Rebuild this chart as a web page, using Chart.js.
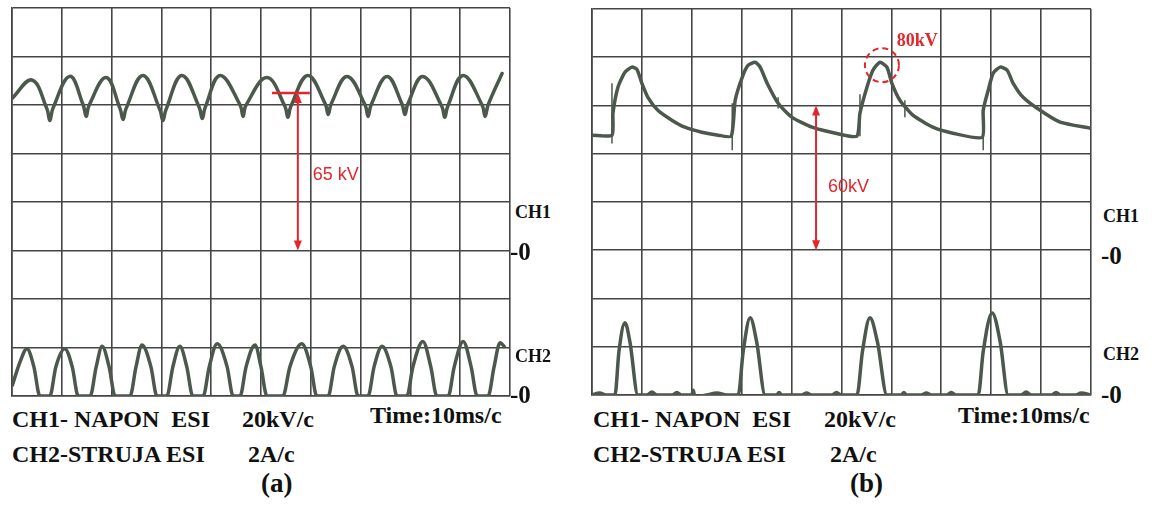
<!DOCTYPE html>
<html>
<head>
<meta charset="utf-8">
<script src="https://cdn.jsdelivr.net/npm/chart.js@4.4.1/dist/chart.umd.min.js"></script>
<style>
body { margin:0; background:#fff; width:1155px; height:506px; position:relative; overflow:hidden; font-family:"Liberation Serif", "Times New Roman", serif; }
canvas { position:absolute; }
.lbl { position:absolute; font-weight:bold; color:#111; white-space:pre; font-size:24px; line-height:1; }
.side { position:absolute; font-weight:bold; color:#111; white-space:pre; line-height:1; }
</style>
</head>
<body>
<canvas id="chartA" width="504" height="394" style="left:9px;top:5px"></canvas>
<canvas id="chartB" width="505" height="392" style="left:589px;top:6px"></canvas>

<div class="side" style="left:515px;top:203px;font-size:18px">CH1</div>
<div class="side" style="left:510px;top:239px;font-size:25px">-0</div>
<div class="side" style="left:515px;top:347px;font-size:18px">CH2</div>
<div class="side" style="left:510px;top:382px;font-size:25px">-0</div>

<div class="side" style="left:1103px;top:207px;font-size:18px">CH1</div>
<div class="side" style="left:1101px;top:243px;font-size:25px">-0</div>
<div class="side" style="left:1103px;top:345px;font-size:18px">CH2</div>
<div class="side" style="left:1101px;top:382px;font-size:25px">-0</div>

<div class="lbl" style="left:12px;top:407px">CH1- NAPON  ESI</div>
<div class="lbl" style="left:242px;top:407px">20kV/c</div>
<div class="lbl" style="left:370px;top:403px">Time:10ms/c</div>
<div class="lbl" style="left:12px;top:442px">CH2-STRUJA ESI</div>
<div class="lbl" style="left:248px;top:442px">2A/c</div>
<div class="lbl" style="left:261px;top:470px;font-size:27px">(a)</div>

<div class="lbl" style="left:593px;top:407px">CH1- NAPON  ESI</div>
<div class="lbl" style="left:824px;top:407px">20kV/c</div>
<div class="lbl" style="left:958px;top:403px">Time:10ms/c</div>
<div class="lbl" style="left:593px;top:442px">CH2-STRUJA ESI</div>
<div class="lbl" style="left:830px;top:442px">2A/c</div>
<div class="lbl" style="left:850px;top:470px;font-size:27px">(b)</div>

<script>
// (a) CH1 napon [ms, kV]
const timeA1 = [0, 4.0, 7.0, 7.6, 8.2, 11.6, 14.3, 14.9, 15.5, 18.9, 21.7, 22.3, 22.9, 26.3, 29.7, 30.3, 30.9, 34.1, 37.6, 38.2, 38.8, 41.8, 45.8, 46.4, 47.0, 51.2, 54.8, 55.4, 56.0, 59.4, 62.9, 63.5, 64.1, 67.3, 70.9, 71.5, 72.1, 75.3, 78.3, 78.9, 79.5, 82.5, 86.3, 86.9, 87.5, 90.6, 94.4, 95.0, 95.6, 98.4]
const voltA1 = [62.7, 70.3, 58.5, 53.6, 58.5, 71.8, 60.0, 55.3, 60.0, 71.3, 58.5, 54.0, 58.5, 72.2, 58.0, 53.6, 58.0, 72.2, 59.0, 54.4, 59.0, 72.2, 60.0, 55.3, 60.0, 71.3, 59.5, 54.9, 59.5, 72.2, 60.5, 56.1, 60.5, 71.8, 60.0, 55.3, 60.0, 71.8, 60.5, 56.1, 60.5, 71.8, 59.5, 54.9, 59.5, 72.2, 60.0, 55.3, 60.0, 73.0]

// (a) CH2 struja [ms, A]
const timeA2 = [0, 1.6, 3.0, 4.4, 5.6, 7.6, 8.8, 10.6, 12.1, 13.3, 15.7, 16.9, 18.1, 19.5, 20.7, 23.7, 24.9, 26.1, 27.9, 29.1, 31.1, 32.3, 33.7, 35.1, 36.3, 38.4, 39.6, 41.2, 43.2, 44.4, 45.8, 47.0, 48.8, 50.0, 51.2, 54.4, 55.8, 58.2, 60.0, 61.2, 63.5, 64.7, 66.5, 68.3, 69.5, 71.5, 72.7, 74.3, 76.1, 77.3, 79.3, 80.5, 82.5, 84.1, 85.3, 87.6, 88.8, 90.6, 92.2, 93.4, 95.6, 96.8, 98.0, 99.0]
const ampA2 = [0.4, 1.4, 1.95, 1.2, 0, 0, 1.2, 1.95, 1.2, 0, 0, 1.2, 2.05, 1.2, 0, 0, 1.2, 2.1, 1.2, 0, 0, 1.2, 2.05, 1.2, 0, 0, 1.2, 2.15, 1.2, 0, 0, 1.2, 2.1, 1.2, 0, 0, 1.2, 2.15, 1.2, 0, 0, 1.2, 2.05, 1.2, 0, 0, 1.2, 2.05, 1.2, 0, 0, 1.2, 2.25, 1.2, 0, 0, 1.2, 2.25, 1.2, 0, 0, 1.2, 2.2, 2.0]

// (b) CH1 napon [ms, kV]
const timeB1 = [0, 4.0, 4.2, 5.2, 6.6, 8.0, 9.0, 10.0, 11.2, 13.2, 16.0, 18.6, 22.0, 25.3, 27.9, 28.7, 30.1, 31.3, 32.7, 33.7, 35.1, 37.3, 40.1, 44.1, 49.7, 53.1, 53.7, 55.1, 56.3, 57.7, 59.1, 60.1, 61.7, 64.3, 68.3, 72.3, 78.2, 78.4, 79.4, 80.4, 81.8, 83.2, 84.4, 86.4, 89.8, 93.8, 99.8]
const voltB1 = [47.7, 47.7, 56.8, 67.6, 73.8, 75.9, 75.0, 69.2, 63.4, 58.0, 53.9, 51.0, 48.9, 47.7, 47.3, 62.2, 71.7, 76.7, 77.9, 75.9, 69.2, 60.9, 55.1, 51.0, 48.1, 47.3, 56.8, 67.6, 74.6, 77.9, 75.9, 69.2, 62.2, 56.0, 51.0, 48.5, 46.8, 58.0, 66.3, 73.4, 75.9, 74.6, 69.2, 63.4, 58.0, 53.1, 50.6]

// (b) CH1 tanke smetnje: vrijeme, gornji i donji kV
const spikeTimeB = [4.0, 28.1, 37.3, 53.7, 62.7, 78.4]
const spikeTopB = [69.2, 60.9, 63.4, 64.7, 62.2, 53.9]
const spikeBotB = [44.3, 41.5, 58.8, 47.3, 55.1, 41.5]

// (b) CH2 struja [ms, A]
const timeB2 = [0, 1.5, 3.0, 4.6, 5.4, 6.6, 7.6, 9.2, 11, 12, 13, 16, 17, 18, 20, 20.3, 20.6, 23, 25, 27, 29.3, 30.3, 31.7, 33.0, 34.7, 37, 37.5, 38, 42, 43, 44, 48, 49, 50, 53.1, 54.2, 55.7, 57.2, 59.1, 62, 62.5, 63, 66, 67, 68, 71, 72, 73, 77.4, 78.4, 80.2, 81.8, 83.4, 86, 87, 88, 92, 93, 94, 97, 98, 100]
const ampB2 = [0, 0.08, 0, 0, 1.8, 3.0, 2.2, 0, 0, 0.12, 0, 0, 0.1, 0, 0, 0.2, -0.08, 0, 0.08, 0, 0, 1.8, 3.2, 2.2, 0, 0, 0.1, 0, 0, 0.08, 0, 0, 0.1, 0, 0, 1.8, 3.2, 2.2, 0, 0, 0.1, 0, 0, 0.08, 0, 0, 0.1, 0, 0, 1.8, 3.4, 2.2, 0, 0, 0.12, 0, 0, 0.1, 0, 0, 0.08, 0]

// oznake: [ms, kV od, kV do]
const arrowA = [57.4, 0, 65]
const markA = [52.2, 59.8, 65]
const labelA = [65.0, 31, '65 kV']
const arrowB = [44.9, 0, 60]
const labelB = [51.4, 26, '60kV']
const circleB = [58.1, 76.7]
const peakLabelB = [65.2, 86.5, '80kV']

const traceColor = '#4b584b'
const gridColor = '#454545'
const red = '#e3262b'

function pts(xs, ys){
    return xs.map((x, i) => ({x: x, y: ys[i]}))
}

function spikes(ts, tops, bots){
    let out = []
    ts.forEach((t, i) => {
        out.push({x: t, y: tops[i]}, {x: t, y: bots[i]}, {x: t, y: null})
    })
    return out
}

function drawArrow(ctx, x, yTop, yBot){
    ctx.beginPath()
    ctx.moveTo(x, yTop + 4)
    ctx.lineTo(x, yBot - 4)
    ctx.stroke()
    ctx.beginPath()
    ctx.moveTo(x, yTop); ctx.lineTo(x - 4, yTop + 10); ctx.lineTo(x + 4, yTop + 10)
    ctx.closePath(); ctx.fill()
    ctx.beginPath()
    ctx.moveTo(x, yBot); ctx.lineTo(x - 4, yBot - 10); ctx.lineTo(x + 4, yBot - 10)
    ctx.closePath(); ctx.fill()
}

const markPlugin = {
    id: 'marks',
    afterDatasetsDraw(chart, args, opts){
        const ctx = chart.ctx
        const xs = chart.scales.x, ys = chart.scales.y
        ctx.save()
        ctx.strokeStyle = red
        ctx.fillStyle = red
        ctx.lineWidth = 2
        if(opts.arrow){
            const a = opts.arrow
            drawArrow(ctx, xs.getPixelForValue(a[0]), ys.getPixelForValue(a[2]), ys.getPixelForValue(a[1]))
        }
        if(opts.mark){
            const m = opts.mark
            ctx.lineWidth = 2.5
            ctx.beginPath()
            ctx.moveTo(xs.getPixelForValue(m[0]), ys.getPixelForValue(m[2]))
            ctx.lineTo(xs.getPixelForValue(m[1]), ys.getPixelForValue(m[2]))
            ctx.stroke()
        }
        if(opts.circle){
            const c = opts.circle
            ctx.lineWidth = 2
            ctx.setLineDash([6, 4])
            ctx.beginPath()
            ctx.arc(xs.getPixelForValue(c[0]), ys.getPixelForValue(c[1]), 17, 0, Math.PI * 2)
            ctx.stroke()
            ctx.setLineDash([])
        }
        ctx.textAlign = 'center'
        ctx.textBaseline = 'middle'
        if(opts.label){
            const l = opts.label
            ctx.font = '18px "Liberation Sans", Arial, sans-serif'
            ctx.fillText(l[2], xs.getPixelForValue(l[0]), ys.getPixelForValue(l[1]))
        }
        if(opts.peakLabel){
            const l = opts.peakLabel
            ctx.font = 'bold 18px "Liberation Serif", serif'
            ctx.fillText(l[2], xs.getPixelForValue(l[0]), ys.getPixelForValue(l[1]))
        }
        ctx.restore()
    }
}

function makeChart(id, ch1, ch2, extra, tension, marks){
    const ctx = document.getElementById(id).getContext('2d')
    let datasets = [{
        data: ch1,
        yAxisID: 'y',
        borderColor: traceColor,
        borderWidth: 3.5,
        pointRadius: 0,
        tension: tension,
        borderJoinStyle: 'round',
        borderCapStyle: 'round'
    }, {
        data: ch2,
        yAxisID: 'y2',
        borderColor: traceColor,
        borderWidth: 3.5,
        pointRadius: 0,
        cubicInterpolationMode: 'monotone',
        borderJoinStyle: 'round'
    }]
    if(extra){
        datasets.push({
            data: extra,
            yAxisID: 'y',
            borderColor: traceColor,
            borderWidth: 1.5,
            pointRadius: 0,
            spanGaps: false
        })
    }
    return new Chart(ctx, {
        type: 'line',
        data: {datasets: datasets},
        options: {
            responsive: false,
            animation: false,
            devicePixelRatio: 1,
            layout: {padding: 3},
            plugins: {
                legend: {display: false},
                tooltip: {enabled: false},
                marks: marks
            },
            scales: {
                x: {
                    type: 'linear', min: 0, max: 100,
                    ticks: {display: false, stepSize: 10},
                    grid: {color: gridColor, lineWidth: 1.6, drawTicks: false},
                    border: {color: gridColor, width: 1.6},
                    afterFit: (s) => { s.height = 0 }
                },
                y: {
                    min: -60, max: 100,
                    ticks: {display: false, stepSize: 20},
                    grid: {color: gridColor, lineWidth: 1.6, drawTicks: false},
                    border: {color: gridColor, width: 1.6},
                    afterFit: (s) => { s.width = 0 }
                },
                y2: {
                    position: 'right', min: 0, max: 16,
                    ticks: {display: false},
                    grid: {display: false, drawTicks: false},
                    border: {display: false},
                    afterFit: (s) => { s.width = 0 }
                }
            }
        },
        plugins: [markPlugin]
    })
}

makeChart('chartA', pts(timeA1, voltA1), pts(timeA2, ampA2), null, 0.4,
    {arrow: arrowA, mark: markA, label: labelA})
makeChart('chartB', pts(timeB1, voltB1), pts(timeB2, ampB2), spikes(spikeTimeB, spikeTopB, spikeBotB), 0.2,
    {arrow: arrowB, label: labelB, circle: circleB, peakLabel: peakLabelB})
</script>
</body>
</html>
